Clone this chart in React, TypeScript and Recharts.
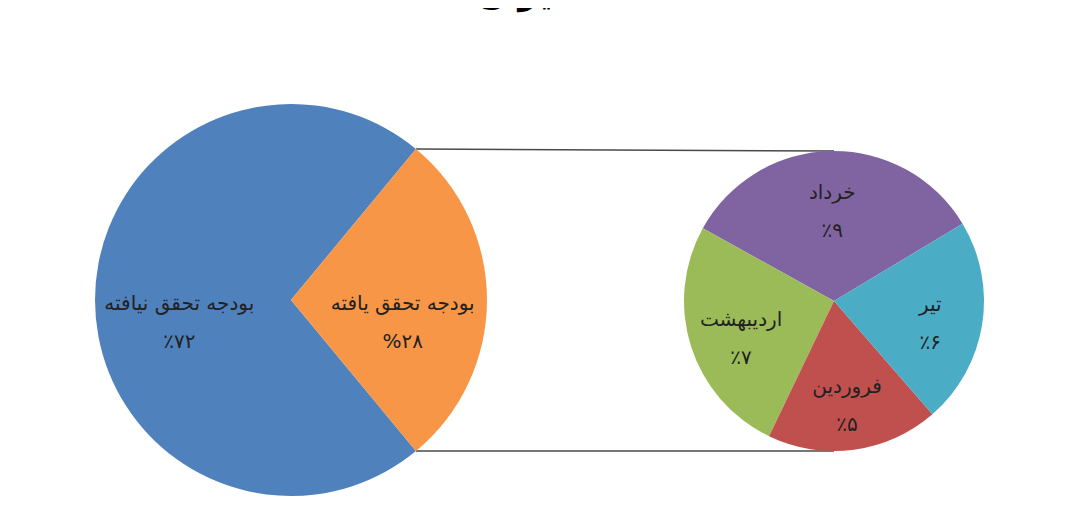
import { Cell, Customized, Pie, PieChart } from 'recharts'

// Main pie: achieved vs. not achieved budget
const budgetNames = ['بودجه تحقق نیافته', 'بودجه تحقق یافته']
const budgetValues = [72, 28]
const budgetSigns = ['٪', '%']
const budgetColors = ['#4F81BD', '#F79646']

// Secondary pie: breakdown of the achieved share by month
const monthNames = ['خرداد', 'اردیبهشت', 'فروردین', 'تیر']
const monthValues = [9, 7, 5, 6]
const monthColors = ['#8064A2', '#9BBB59', '#C0504D', '#4BACC6']

const title = 'میزان'

const W = 1078
const H = 516
const BIG = { cx: 291, cy: 300, r: 196 }
const SMALL = { cx: 834, cy: 301, r: 150 }

const labelFont = '"DejaVu Sans", sans-serif'

const toPersianDigits = (n: number) =>
  String(n).replace(/\d/g, d => '۰۱۲۳۴۵۶۷۸۹'[Number(d)])

const RADIAN = Math.PI / 180

// half of the achieved slice angle, used for both the slice layout and the connector lines
const achievedHalf = (budgetValues[1] / (budgetValues[0] + budgetValues[1])) * 180

const budgetData = budgetNames.map((name, i) => ({
  name,
  value: budgetValues[i],
  text: budgetSigns[i] + toPersianDigits(budgetValues[i]),
}))

const monthData = monthNames.map((name, i) => ({
  name,
  value: monthValues[i],
  text: '٪' + toPersianDigits(monthValues[i]),
}))

// two-line label (name, then percentage) placed inside the slice
const makeLabel = (factor: number, shift: number) => (props: any) => {
  const { cx, cy, midAngle, outerRadius, payload, index } = props
  const r = outerRadius * factor
  const x = cx + r * Math.cos(-midAngle * RADIAN)
  const y = cy + r * Math.sin(-midAngle * RADIAN) + shift
  return (
    <g key={`lbl-${index}`}>
      <text x={x} y={y - 5} textAnchor="middle" fill="#222" fontSize={20} fontFamily={labelFont}>
        {payload.name}
      </text>
      <text x={x} y={y + 33} textAnchor="middle" fill="#222" fontSize={20} fontFamily={labelFont}>
        {payload.text}
      </text>
    </g>
  )
}

// Lines joining the edges of the achieved slice to the top and bottom of the breakdown pie
const Connectors = () => {
  const dx = BIG.r * Math.cos(achievedHalf * RADIAN)
  const dy = BIG.r * Math.sin(achievedHalf * RADIAN)
  return (
    <g>
      <line x1={BIG.cx + dx} y1={BIG.cy - dy} x2={SMALL.cx} y2={SMALL.cy - SMALL.r} stroke="#4a4a4a" strokeWidth={1.5} />
      <line x1={BIG.cx + dx} y1={BIG.cy + dy} x2={SMALL.cx} y2={SMALL.cy + SMALL.r} stroke="#4a4a4a" strokeWidth={1.5} />
      <text x={526} y={4} textAnchor="middle" fontSize={34} fontWeight="bold" fill="#000" fontFamily={labelFont}>
        {title}
      </text>
    </g>
  )
}

export default function App() {
  return (
    <div style={{ margin: -8, width: W, height: H, background: '#fff' }}>
      <PieChart width={W} height={H} margin={{ top: 0, right: 0, bottom: 0, left: 0 }}>
        <Pie
          data={budgetData}
          dataKey="value"
          cx={BIG.cx}
          cy={BIG.cy}
          outerRadius={BIG.r}
          startAngle={achievedHalf}
          endAngle={achievedHalf + 360}
          stroke="none"
          label={makeLabel(0.57, 15)}
          labelLine={false}
          isAnimationActive={false}
        >
          {budgetData.map((d, i) => (
            <Cell key={d.name} fill={budgetColors[i]} />
          ))}
        </Pie>
        <Pie
          data={monthData}
          dataKey="value"
          cx={SMALL.cx}
          cy={SMALL.cy}
          outerRadius={SMALL.r}
          startAngle={31}
          endAngle={391}
          stroke="none"
          label={makeLabel(0.65, 0)}
          labelLine={false}
          isAnimationActive={false}
        >
          {monthData.map((d, i) => (
            <Cell key={d.name} fill={monthColors[i]} />
          ))}
        </Pie>
        <Customized component={Connectors} />
      </PieChart>
    </div>
  )
}
